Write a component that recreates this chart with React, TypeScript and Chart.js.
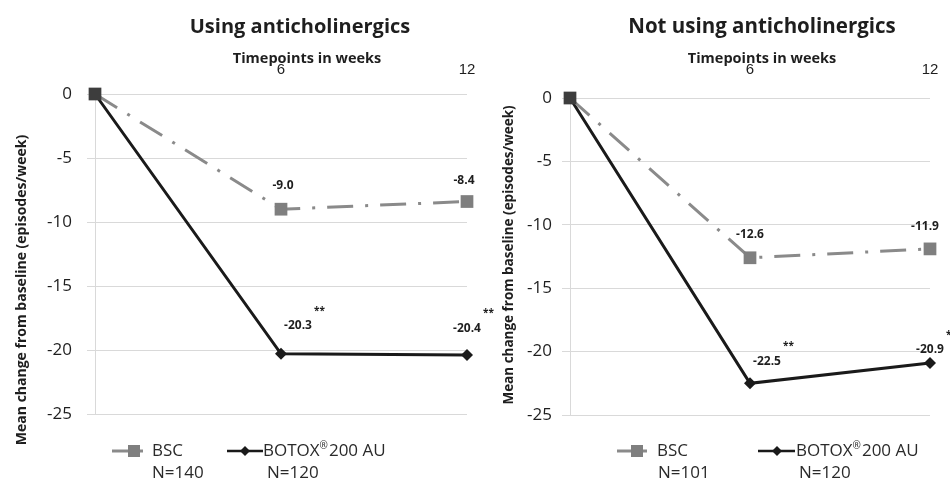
import React, { useEffect, useRef } from 'react';
import { Chart, registerables } from 'chart.js';
Chart.register(...registerables);

// ---------- data ----------
const weeks = [0, 6, 12];
const weekTicks = [6, 12];
const yMin = -25;
const yMax = 0;
const yStep = 5;
const bscUsing = [0, -9.0, -8.4];
const botoxUsing = [0, -20.3, -20.4];
const bscNotUsing = [0, -12.6, -11.9];
const botoxNotUsing = [0, -22.5, -20.9];
const botoxSignificance = ['', '**', '**'];
const seriesNames = ['BSC', 'BOTOX®200 AU'];
const nUsing = ['N=140', 'N=120'];
const nNotUsing = ['N=101', 'N=120'];
const panelTitles = ['Using anticholinergics', 'Not using anticholinergics'];
const xAxisTitle = 'Timepoints in weeks';
const yAxisTitle = 'Mean change from baseline (episodes/week)';

const FONT = '"Open Sans", "Noto Sans", sans-serif';
const ARIAL = '"Liberation Sans", Arial, sans-serif';
const BSC_LINE = '#8a8a8a';
const BSC_MARK = '#7f7f7f';
const BSC_FIRST = '#3d3d3d';
const BOT = '#1a1a1a';
const GRID = '#d9d9d9';
const TEXT = '#1e1e1e';

type Panel = {
  title: string;
  bsc: number[];
  botox: number[];
  n: string[];
  left: number;
  width: number;
  chartTop: number;
  bottomPad: number;
  rightPad: number;
  yTickPad: number;
  xTickPad: number;
  titleX: number;
  titleSize: number;
  subX: number;
  yTitleX: number;
  yTitleY: number;
  yTitleSize: number;
  leg: {
    bscLine: number[]; bscMark: number; bscText: number;
    botLine: number[]; botMark: number; botText: number;
    nBsc: number; nBot: number; row1: number; row2: number;
  };
  bscOff: number[][];
  botOff: number[][];
};

const panels: Panel[] = [
  {
    title: panelTitles[0], bsc: bscUsing, botox: botoxUsing, n: nUsing,
    left: 0, width: 520, chartTop: 94, bottomPad: 70, rightPad: 53, yTickPad: 15, xTickPad: 15,
    titleX: 300, titleSize: 20, subX: 307, yTitleX: 22, yTitleY: 290, yTitleSize: 14,
    leg: { bscLine: [112, 143], bscMark: 134, bscText: 152, botLine: [227, 263], botMark: 245, botText: 263, nBsc: 152, nBot: 267, row1: 451, row2: 473 },
    bscOff: [[0, 0], [2, -24], [-3, -21]],
    botOff: [[0, 0], [17, -28], [0, -27]],
  },
  {
    title: panelTitles[1], bsc: bscNotUsing, botox: botoxNotUsing, n: nNotUsing,
    left: 475, width: 475, chartTop: 98, bottomPad: 69, rightPad: 20, yTickPad: 10, xTickPad: 19,
    titleX: 287, titleSize: 20.5, subX: 287, yTitleX: 34, yTitleY: 255, yTitleSize: 13.5,
    leg: { bscLine: [142, 172], bscMark: 162, bscText: 182, botLine: [283, 320], botMark: 302, botText: 321, nBsc: 183, nBot: 324, row1: 451, row2: 473 },
    bscOff: [[0, 0], [0, -23], [-5, -22]],
    botOff: [[0, 0], [17, -22], [0, -13]],
  },
];

function drawName(ctx: CanvasRenderingContext2D, name: string, x: number, y: number) {
  const parts = name.split('®');
  ctx.font = `17px ${FONT}`;
  ctx.textBaseline = 'middle';
  ctx.textAlign = 'left';
  ctx.fillText(parts[0], x, y);
  let cx = x + ctx.measureText(parts[0]).width;
  if (parts.length > 1) {
    ctx.font = `10px ${FONT}`;
    ctx.fillText('®', cx, y - 5);
    cx += ctx.measureText('®').width + 1;
    ctx.font = `17px ${FONT}`;
    ctx.fillText(parts[1], cx, y);
  }
}

function makePlugin(p: Panel) {
  return {
    id: 'decor',
    afterDatasetsDraw(chart: any) {
      const ctx: CanvasRenderingContext2D = chart.ctx;
      ctx.save();
      ctx.fillStyle = TEXT;
      ctx.textBaseline = 'middle';
      ctx.textAlign = 'center';
      const m0 = chart.getDatasetMeta(0);
      const m1 = chart.getDatasetMeta(1);
      m0.data.forEach((el: any, i: number) => {
        if (i === 0) return;
        ctx.font = `bold 12px ${FONT}`;
        ctx.fillText(p.bsc[i].toFixed(1), el.x + p.bscOff[i][0], el.y + p.bscOff[i][1]);
      });
      m1.data.forEach((el: any, i: number) => {
        if (i === 0) return;
        ctx.font = `bold 12px ${FONT}`;
        const t = p.botox[i].toFixed(1);
        const cx = el.x + p.botOff[i][0];
        const cy = el.y + p.botOff[i][1];
        ctx.textAlign = 'center';
        ctx.fillText(t, cx, cy);
        const w = ctx.measureText(t).width;
        if (botoxSignificance[i]) {
          ctx.textAlign = 'left';
          ctx.font = `bold 10px ${FONT}`;
          ctx.fillText(botoxSignificance[i], cx + w / 2 + 2, cy - 15);
        }
      });
      ctx.restore();
    },
    afterDraw(chart: any) {
      const ctx: CanvasRenderingContext2D = chart.ctx;
      ctx.save();
      ctx.fillStyle = TEXT;
      // main title
      ctx.font = `bold ${p.titleSize}px ${FONT}`;
      ctx.textAlign = 'center';
      ctx.textBaseline = 'middle';
      ctx.fillText(p.title, p.titleX, 27);
      // x axis title
      ctx.font = `bold 14.5px ${FONT}`;
      ctx.fillText(xAxisTitle, p.subX, 59);
      // y axis title
      ctx.save();
      ctx.translate(p.yTitleX, p.yTitleY);
      ctx.rotate(-Math.PI / 2);
      ctx.font = `bold ${p.yTitleSize}px ${FONT}`;
      ctx.fillText(yAxisTitle, 0, 0);
      ctx.restore();
      // legend
      const L = p.leg;
      ctx.strokeStyle = BSC_LINE;
      ctx.lineWidth = 3;
      ctx.beginPath();
      ctx.moveTo(L.bscLine[0], L.row1);
      ctx.lineTo(L.bscLine[1], L.row1);
      ctx.stroke();
      ctx.fillStyle = BSC_MARK;
      ctx.fillRect(L.bscMark - 6, L.row1 - 6, 12, 12);
      ctx.strokeStyle = BOT;
      ctx.lineWidth = 2.5;
      ctx.beginPath();
      ctx.moveTo(L.botLine[0], L.row1);
      ctx.lineTo(L.botLine[1], L.row1);
      ctx.stroke();
      ctx.fillStyle = BOT;
      ctx.beginPath();
      ctx.moveTo(L.botMark, L.row1 - 5);
      ctx.lineTo(L.botMark + 5, L.row1);
      ctx.lineTo(L.botMark, L.row1 + 5);
      ctx.lineTo(L.botMark - 5, L.row1);
      ctx.closePath();
      ctx.fill();
      ctx.fillStyle = '#2a2a2a';
      drawName(ctx, seriesNames[0], L.bscText, L.row1);
      drawName(ctx, seriesNames[1], L.botText, L.row1);
      ctx.font = `17px ${FONT}`;
      ctx.textAlign = 'left';
      ctx.fillText(p.n[0], L.nBsc, L.row2);
      ctx.fillText(p.n[1], L.nBot, L.row2);
      ctx.restore();
    },
  };
}

function PanelChart({ p }: { p: Panel }) {
  const ref = useRef<HTMLCanvasElement>(null);
  useEffect(() => {
    if (!ref.current) return;
    const chart = new Chart(ref.current, {
      type: 'line',
      data: {
        datasets: [
          {
            label: seriesNames[0],
            data: weeks.map((w, i) => ({ x: w, y: p.bsc[i] })),
            borderColor: BSC_LINE,
            borderWidth: 3,
            borderDash: [26, 12, 3, 12],
            pointStyle: 'rect',
            pointRadius: 9,
            pointBorderWidth: 0,
            pointBackgroundColor: weeks.map((_, i) => (i === 0 ? BSC_FIRST : BSC_MARK)),
            pointBorderColor: weeks.map((_, i) => (i === 0 ? BSC_FIRST : BSC_MARK)),
            tension: 0,
            clip: false,
          } as any,
          {
            label: seriesNames[1],
            data: weeks.map((w, i) => ({ x: w, y: p.botox[i] })),
            borderColor: BOT,
            borderWidth: 3,
            pointStyle: 'rectRot',
            pointRadius: 6,
            pointBorderWidth: 0,
            pointBackgroundColor: BOT,
            pointBorderColor: BOT,
            tension: 0,
            clip: false,
          } as any,
        ],
      },
      options: {
        responsive: false,
        animation: false,
        events: [],
        layout: { padding: { left: 0, right: p.rightPad, top: 0, bottom: p.bottomPad } },
        plugins: { legend: { display: false }, tooltip: { enabled: false }, title: { display: false } },
        scales: {
          x: {
            type: 'linear',
            position: 'top',
            min: 0,
            max: 12,
            afterBuildTicks: (s: any) => { s.ticks = weekTicks.map((v) => ({ value: v })); },
            afterFit: (s: any) => { s.height = p.chartTop; s.paddingLeft = 0; s.paddingRight = 0; },
            grid: { display: false, drawTicks: false },
            border: { display: false },
            ticks: { padding: p.xTickPad, color: TEXT, font: { family: ARIAL, size: 15 }, maxRotation: 0, autoSkip: false },
          },
          y: {
            type: 'linear',
            min: yMin,
            max: yMax,
            afterFit: (s: any) => { s.width = 95; },
            grid: { color: GRID, lineWidth: 1, drawTicks: true, tickLength: 8, tickColor: GRID },
            border: { display: true, color: GRID, width: 1 },
            ticks: { stepSize: yStep, padding: p.yTickPad, color: TEXT, font: { family: FONT, size: 17 } },
          },
        },
      },
      plugins: [makePlugin(p)],
    } as any);
    return () => chart.destroy();
  }, [p]);
  return (
    <canvas
      ref={ref}
      width={p.width}
      height={484}
      style={{ position: 'absolute', left: p.left, top: 0, width: p.width, height: 484, display: 'block' }}
    />
  );
}

export default function App() {
  return (
    <div style={{ position: 'absolute', left: 0, top: 0, width: 950, height: 484, background: '#fff', overflow: 'hidden' }}>
      {panels.map((p, i) => (
        <PanelChart key={i} p={p} />
      ))}
    </div>
  );
}
